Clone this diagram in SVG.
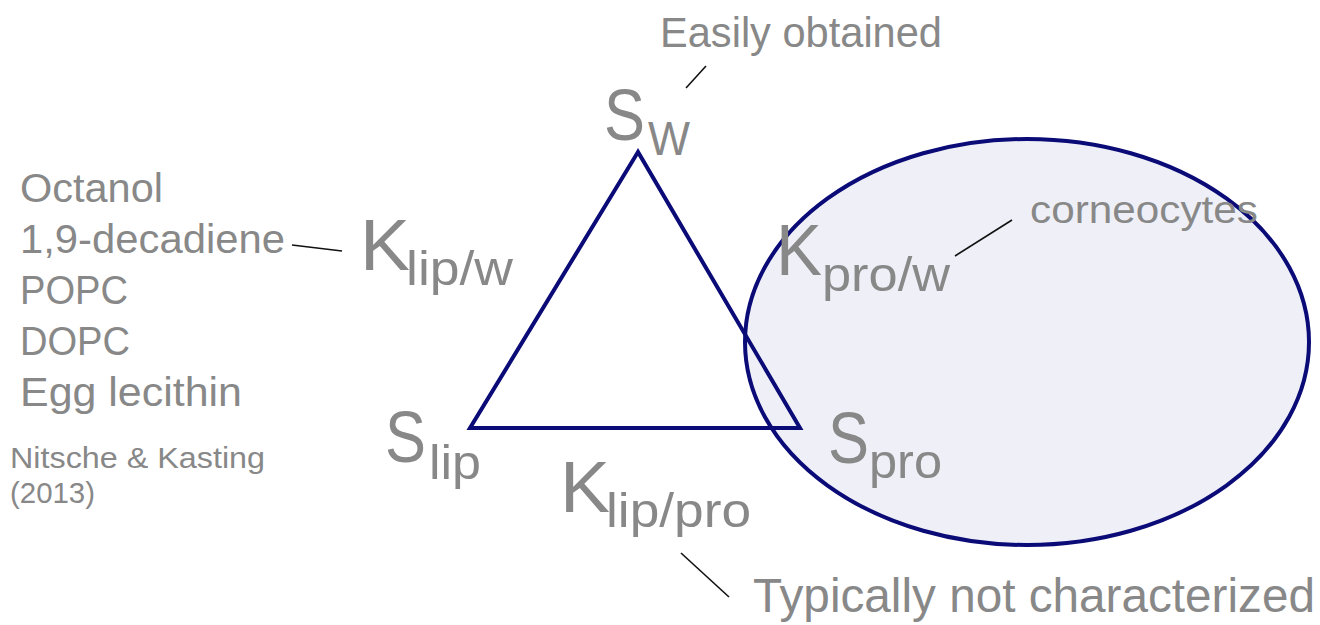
<svg xmlns="http://www.w3.org/2000/svg" width="1320" height="625" viewBox="0 0 1320 625">
<style>
text{font-family:"Liberation Sans Narrow","Liberation Sans",Arial,sans-serif;fill:#888888}
.big{font-size:72px}
.sub{font-size:48px}
.lst{font-size:40px}
.lead{stroke:#111111;stroke-width:1.6;fill:none}
.shape{stroke:#0b0b78;stroke-width:4;}
</style>
<rect width="1320" height="625" fill="#ffffff"/>
<g id="corneocytes-region">
<ellipse class="shape" cx="1027" cy="342" rx="282" ry="203" fill="#eff0f7"/>
</g>
<g id="triangle">
<polygon class="shape" points="638,152 470,428 800,428" fill="none" stroke-linejoin="miter"/>
</g>
<g id="connectors">
<line class="lead" x1="686" y1="88" x2="706" y2="66"/>
<line class="lead" x1="292" y1="245" x2="342" y2="251"/>
<line class="lead" x1="955" y1="256" x2="1012" y2="220"/>
<line class="lead" x1="681" y1="553" x2="729" y2="597"/>
</g>
<g id="easily">
<text x="660" y="47" font-size="42" textLength="282" lengthAdjust="spacingAndGlyphs">Easily obtained</text>
</g>
<g id="Sw">
<text class="big" x="604" y="140" textLength="41" lengthAdjust="spacingAndGlyphs">S</text>
<text class="sub" x="648" y="155" textLength="42" lengthAdjust="spacingAndGlyphs">W</text>
</g>
<g id="Klipw">
<text class="big" x="360" y="270" textLength="50" lengthAdjust="spacingAndGlyphs">K</text>
<text class="sub" x="406" y="285" textLength="107" lengthAdjust="spacingAndGlyphs">lip/w</text>
</g>
<g id="lipids">
<text class="lst" x="20" y="202" textLength="143" lengthAdjust="spacingAndGlyphs">Octanol</text>
<text class="lst" x="20" y="253" textLength="265" lengthAdjust="spacingAndGlyphs">1,9-decadiene</text>
<text class="lst" x="20" y="304" textLength="108" lengthAdjust="spacingAndGlyphs">POPC</text>
<text class="lst" x="20" y="355" textLength="110" lengthAdjust="spacingAndGlyphs">DOPC</text>
<text class="lst" x="20" y="406" textLength="222" lengthAdjust="spacingAndGlyphs">Egg lecithin</text>
</g>
<g id="ref">
<text x="10" y="468" font-size="30" textLength="255" lengthAdjust="spacingAndGlyphs">Nitsche &amp; Kasting</text>
<text x="10" y="503" font-size="30" textLength="85" lengthAdjust="spacingAndGlyphs">(2013)</text>
</g>
<g id="Slip">
<text class="big" x="385" y="462" textLength="41" lengthAdjust="spacingAndGlyphs">S</text>
<text class="sub" x="429" y="479" textLength="52" lengthAdjust="spacingAndGlyphs">lip</text>
</g>
<g id="Klippro">
<text class="big" x="560" y="512" textLength="50" lengthAdjust="spacingAndGlyphs">K</text>
<text class="sub" x="606" y="527" textLength="145" lengthAdjust="spacingAndGlyphs">lip/pro</text>
</g>
<g id="typically">
<text x="753" y="612" font-size="48" textLength="562" lengthAdjust="spacingAndGlyphs">Typically not characterized</text>
</g>
<g id="Kprow">
<text class="big" x="776" y="275" textLength="46" lengthAdjust="spacingAndGlyphs">K</text>
<text class="sub" x="822" y="291" textLength="128" lengthAdjust="spacingAndGlyphs">pro/w</text>
</g>
<g id="corneo">
<text x="1030" y="223" font-size="38" textLength="228" lengthAdjust="spacingAndGlyphs">corneocytes</text>
</g>
<g id="Spro">
<text class="big" x="828" y="463" textLength="41" lengthAdjust="spacingAndGlyphs">S</text>
<text class="sub" x="869" y="478" textLength="73" lengthAdjust="spacingAndGlyphs">pro</text>
</g>
</svg>
